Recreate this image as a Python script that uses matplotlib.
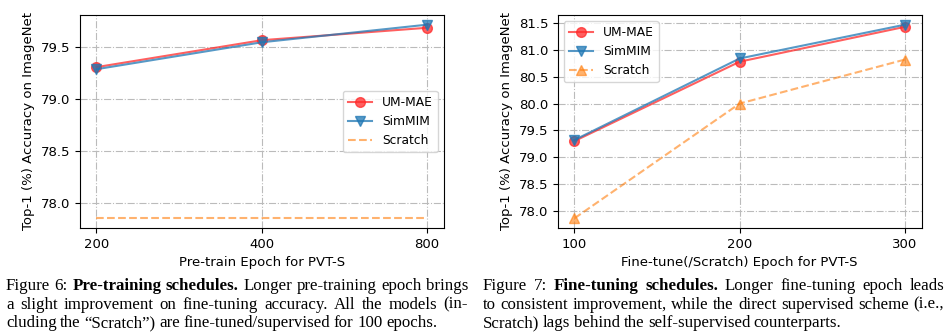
import matplotlib
matplotlib.use('Agg')
import matplotlib.pyplot as plt

# Figure 6: pre-training epochs
pre_epochs = ['200', '400', '800']
pre_ummae = [79.31, 79.57, 79.69]
pre_simmim = [79.29, 79.55, 79.72]
pre_scratch = [77.85, 77.85, 77.85]

# Figure 7: fine-tuning epochs
ft_epochs = ['100', '200', '300']
ft_ummae = [79.30, 80.78, 81.43]
ft_simmim = [79.32, 80.84, 81.47]
ft_scratch = [77.86, 80.00, 80.82]

cap6 = [[('Figure 6: ', 'normal'), ('Pre-training schedules.', 'bold'),
         (' Longer pre-training epoch brings', 'normal')],
        [('a slight improvement on fine-tuning accuracy.  All the models (in-', 'normal')],
        [('cluding the \u201cScratch\u201d) are fine-tuned/supervised for 100 epochs.', 'normal')]]
cap7 = [[('Figure 7:  ', 'normal'), ('Fine-tuning schedules.', 'bold'),
         ('  Longer fine-tuning epoch leads', 'normal')],
        [('to consistent improvement, while the direct supervised scheme (i.e.,', 'normal')],
        [('Scratch) lags behind the self-supervised counterparts.', 'normal')]]

red = '#ff2a2a'
blue = '#1f77b4'
orange = '#ff7f0e'

plt.rcParams['font.size'] = 9.5

fig = plt.figure(figsize=(9.52, 3.36), dpi=100)
ax1 = fig.add_axes([0.084, 0.3214, 0.382, 0.634])
ax2 = fig.add_axes([0.586, 0.3214, 0.382, 0.634])

x = range(len(pre_epochs))
ax1.plot(x, pre_ummae, marker='o', color=red, alpha=0.75, lw=1.5, markersize=7, label='UM-MAE')
ax1.plot(x, pre_simmim, marker='v', color=blue, alpha=0.75, lw=1.5, markersize=7, label='SimMIM')
ax1.plot(x, pre_scratch, ls='--', color=orange, alpha=0.6, lw=1.5, label='Scratch')
ax1.set_xticks(list(x))
ax1.set_xticklabels(pre_epochs)
ax1.set_yticks([78.0, 78.5, 79.0, 79.5])
ax1.set_xlabel('Pre-train Epoch for PVT-S')
ax1.set_ylabel('Top-1 (%) Accuracy on ImageNet')
ax1.grid(ls='-.', color='#bbbbbb', lw=0.8)
ax1.legend(loc='center right', fontsize=8.8)

x = range(len(ft_epochs))
ax2.plot(x, ft_ummae, marker='o', color=red, alpha=0.75, lw=1.5, markersize=7, label='UM-MAE')
ax2.plot(x, ft_simmim, marker='v', color=blue, alpha=0.75, lw=1.5, markersize=7, label='SimMIM')
ax2.plot(x, ft_scratch, marker='^', ls='--', color=orange, alpha=0.6, lw=1.5, markersize=7, label='Scratch')
ax2.set_xticks(list(x))
ax2.set_xticklabels(ft_epochs)
ax2.set_yticks([78.0, 78.5, 79.0, 79.5, 80.0, 80.5, 81.0, 81.5])
ax2.set_xlabel('Fine-tune(/Scratch) Epoch for PVT-S')
ax2.set_ylabel('Top-1 (%) Accuracy on ImageNet')
ax2.grid(ls='-.', color='#bbbbbb', lw=0.8)
ax2.legend(loc='upper left', fontsize=8.8)

# justified caption, word by word
W, H = fig.canvas.get_width_height()
renderer = fig.canvas.get_renderer()
kw = dict(family='Liberation Serif', fontsize=12.2)


def caption(x0, x1, y_base, lines, spacing=18.6):
    for i, line in enumerate(lines):
        words = []
        for text, weight in line:
            for w in text.split():
                words.append((w, weight))
        y = 1 - (y_base + i * spacing) / H
        texts = [fig.text(0, y, w, fontweight=wt, **kw) for w, wt in words]
        widths = [t.get_window_extent(renderer).width for t in texts]
        if i < len(lines) - 1:
            gap = (x1 - x0 - sum(widths)) / (len(words) - 1)
        else:
            gap = 3.6
        pos = x0
        for t, wd in zip(texts, widths):
            t.set_x(pos / W)
            pos += wd + gap


caption(6, 468, 290, cap6)
caption(483, 944, 290, cap7)

plt.savefig('out.png', dpi=100)
